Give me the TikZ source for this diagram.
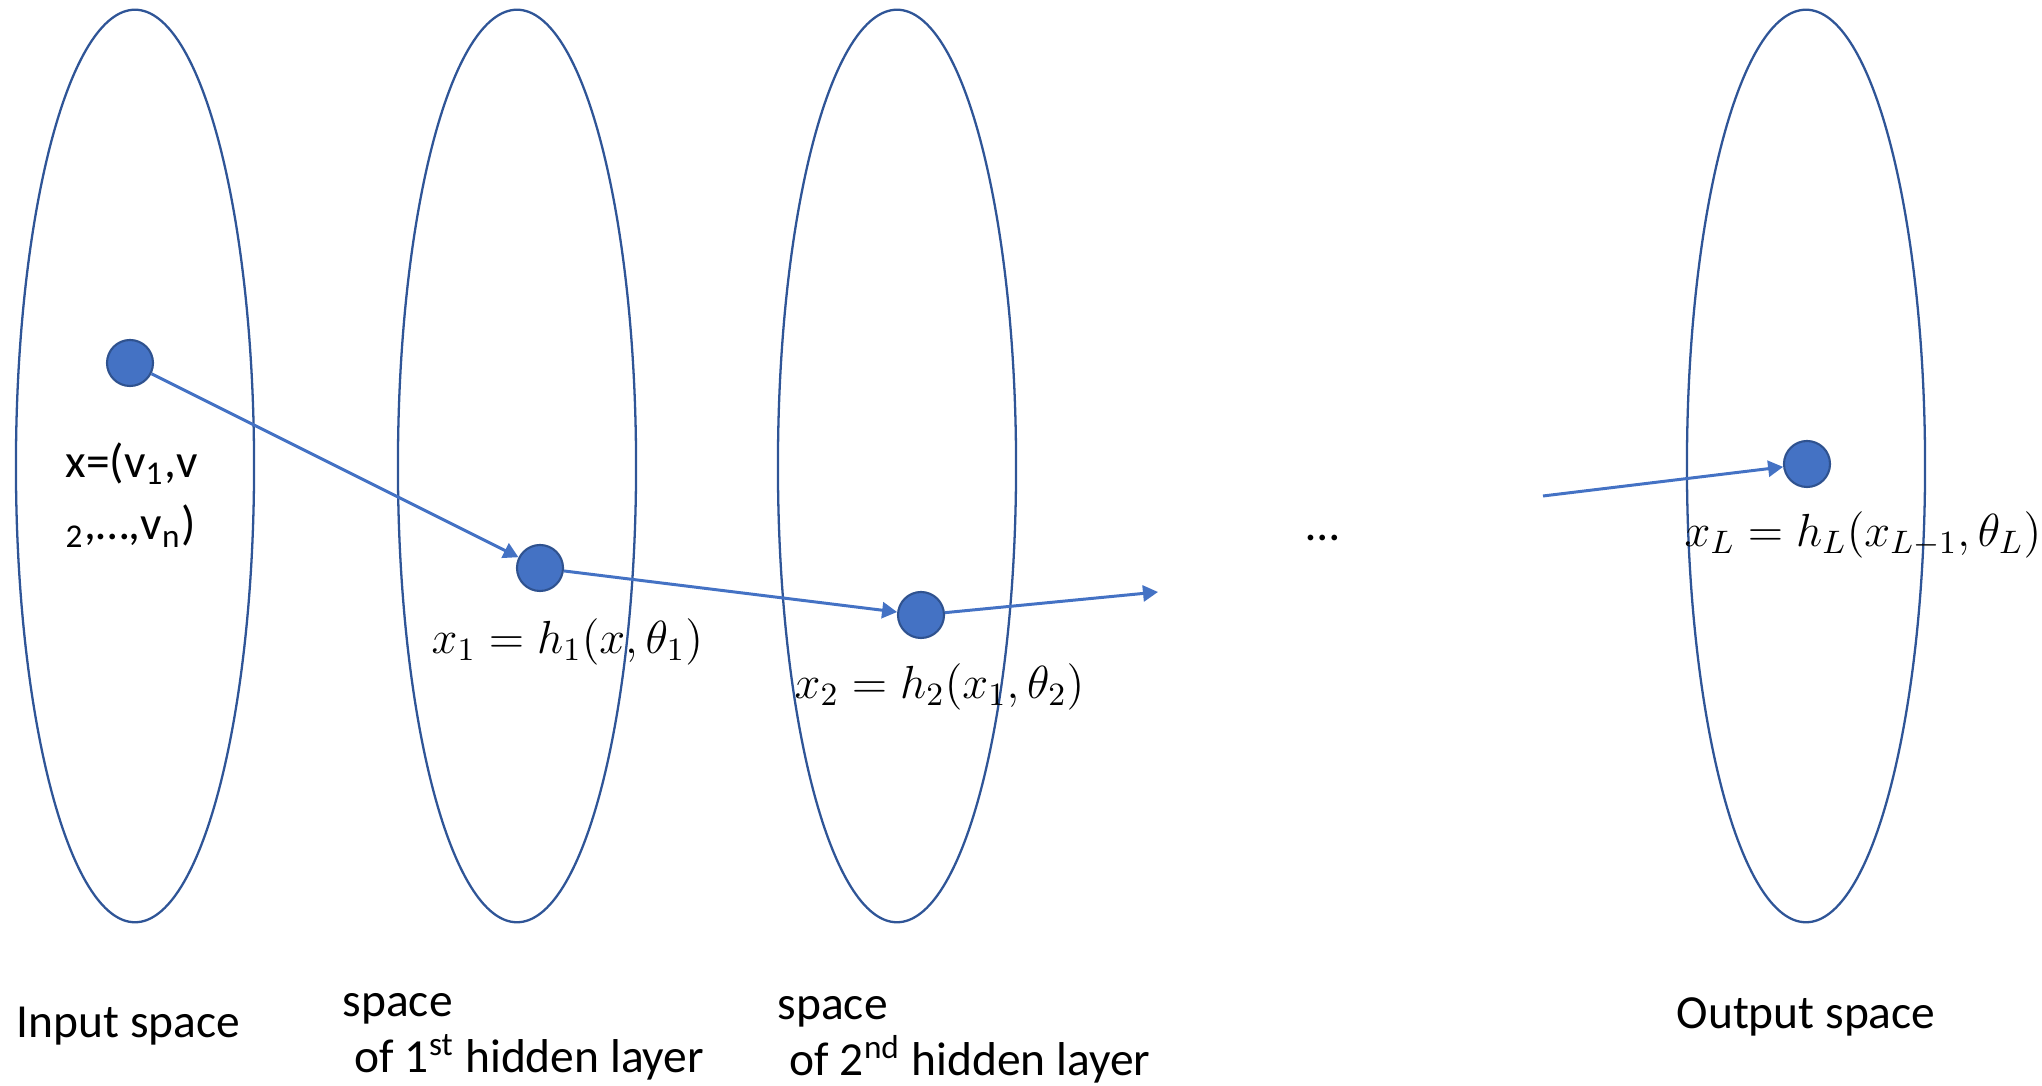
\RequirePackage{fix-cm}
\documentclass[tikz,border=0pt]{standalone}
\usepackage[no-math]{fontspec}
\setmainfont{Carlito}
\usepackage{tikz}
\usetikzlibrary{arrows.meta,positioning,shapes.geometric}
\definecolor{dotblue}{HTML}{4472C4}
\definecolor{rimblue}{HTML}{2F528F}
\definecolor{ovalblue}{HTML}{2F5597}

\begin{document}
\begin{tikzpicture}[x=0.01cm,y=-0.01cm,>={Triangle[length=1.5mm,width=1.6mm]},
  layerspace/.style={draw=ovalblue,line width=0.65pt,ellipse,minimum width=2.38cm,minimum height=9.12cm,inner sep=0pt},
  unit/.style={circle,fill=dotblue,draw=rimblue,line width=0.6pt,minimum size=4.6mm,inner sep=0pt},
  mapto/.style={->,draw=dotblue,fill=dotblue,line width=0.85pt},
  spacelabel/.style={anchor=base west,inner sep=0pt,align=left,font=\fontsize{13.5}{16.2}\selectfont},
  formula/.style={anchor=base west,inner sep=0pt,font=\fontsize{13.2}{16}\selectfont}]
\useasboundingbox (0,0) rectangle (2042,1086);
% the spaces
\node[layerspace] (input) at (135,466) {};
\node[layerspace] (hidden1) at (517,466) {};
\node[layerspace] (hidden2) at (897,466) {};
\node[layerspace] (output) at (1806,466) {};
% points and their images
\node[unit] (x0) at (130,363) {};
\node[unit] (x1) at (540,568) {};
\node[unit] (x2) at (921,615) {};
\node[unit] (xL) at (1807,464) {};
\coordinate (gapin) at (1158,592);
\coordinate (gapout) at (1543,496);
\draw[mapto] (x0) -- (x1);
\draw[mapto] (x1) -- (x2);
\draw[mapto] (x2) -- (gapin);
\draw[mapto] (gapout) -- (xL);
% labels (multi-line ones sit on their last baseline)
\node[spacelabel,font=\fontsize{13.5}{17.9}\selectfont] (xlab) at (65,540) {x=(v\textsubscript{1},v\\\textsubscript{2},…,v\textsubscript{n})};
\node[formula] (h1lab) at (431,654) {$x_1=h_1(x,\theta_1)$};
\node[formula] (h2lab) at (794,699) {$x_2=h_2(x_1,\theta_2)$};
\node[formula] (hLlab) at (1684,547) {$x_L=h_L(x_{L-1},\theta_L)$};
\node[spacelabel] (dots) at (1306,541) {…};
\node[spacelabel] (incap) at (16,1038) {Input space};
\node[spacelabel] (cap1) at (342,1073) {space\\\hspace*{0.12cm}of 1\textsuperscript{st} hidden layer};
\node[spacelabel] (cap2) at (777,1076) {space\\\hspace*{0.12cm}of 2\textsuperscript{nd} hidden layer};
\node[spacelabel] (outcap) at (1676,1029) {Output space};
\end{tikzpicture}
\end{document}
